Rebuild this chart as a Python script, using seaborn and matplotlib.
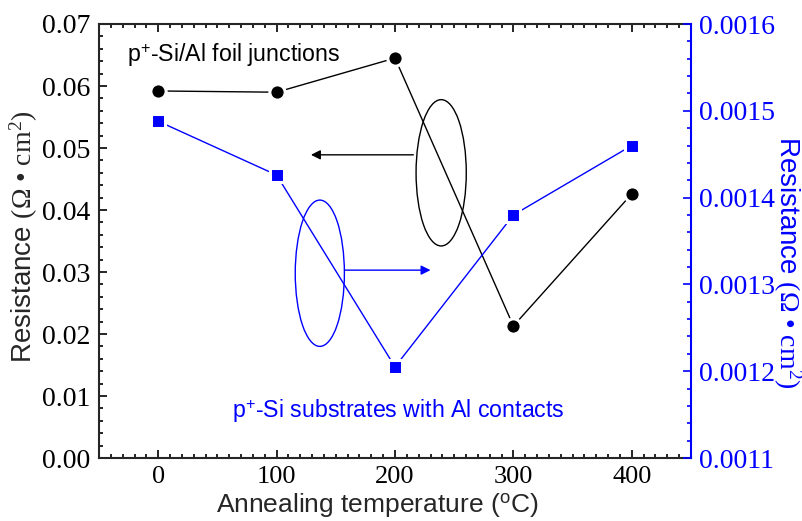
import matplotlib
matplotlib.use('Agg')
import matplotlib.pyplot as plt
import seaborn as sns
import pandas as pd
from matplotlib.patches import Ellipse
from matplotlib.ticker import MultipleLocator, FormatStrFormatter, FixedLocator

# ---- data ----
temperatures = [0, 100, 200, 300, 400]
foil_resistance = [0.0592, 0.0590, 0.0645, 0.0213, 0.0426]
substrate_resistance = [0.001488, 0.001426, 0.001205, 0.001380, 0.001460]
x_ticks = [0, 100, 200, 300, 400]
left_ticks = [0.00, 0.01, 0.02, 0.03, 0.04, 0.05, 0.06, 0.07]
right_ticks = [0.0011, 0.0012, 0.0013, 0.0014, 0.0015, 0.0016]
foil_label = r"p$^{\mathsf{+}}$-Si/Al foil junctions"
substrate_label = r"p$^{\mathsf{+}}$-Si substrates with Al contacts"
x_label = r"Annealing temperature ($^{\mathsf{o}}$C)"
y_label = r"Resistance $\mathrm{(\Omega\ •\ cm^{2})}$"

df = pd.DataFrame({"T": temperatures, "foil": foil_resistance, "sub": substrate_resistance})

sns.set_style('ticks')
plt.rcParams['font.family'] = ['Liberation Serif', 'DejaVu Serif']
plt.rcParams['mathtext.fontset'] = 'custom'
plt.rcParams['mathtext.rm'] = 'Liberation Serif'
plt.rcParams['mathtext.it'] = 'Liberation Serif:italic'
plt.rcParams['mathtext.sf'] = 'Liberation Sans'

BLUE = '#0000ff'
fig = plt.figure(figsize=(8.03, 5.21), dpi=100)
ax = fig.add_axes([99/803, 63/521, 592/803, 434/521])
ax2 = ax.twinx()

sns.lineplot(data=df, x="T", y="foil", ax=ax, color='black', lw=1.0,
             marker='o', markersize=11, markeredgecolor='white',
             markeredgewidth=2.2, zorder=3)
sns.lineplot(data=df, x="T", y="sub", ax=ax2, color=BLUE, lw=1.0,
             marker='s', markersize=10.5, markeredgecolor='white',
             markeredgewidth=2.2, zorder=3)

ax.set_xlim(-50, 450)
ax.set_ylim(0, 0.07)
ax2.set_ylim(0.0011, 0.0016)

ax.xaxis.set_major_locator(FixedLocator(x_ticks))
ax.xaxis.set_minor_locator(MultipleLocator(10))
ax.yaxis.set_major_locator(FixedLocator(left_ticks))
ax.yaxis.set_minor_locator(MultipleLocator(0.002))
ax.yaxis.set_major_formatter(FormatStrFormatter('%.2f'))
ax2.yaxis.set_major_locator(FixedLocator(right_ticks))
ax2.yaxis.set_minor_locator(MultipleLocator(0.00002))
ax2.yaxis.set_major_formatter(FormatStrFormatter('%.4f'))

for a in (ax, ax2):
    for s in a.spines.values():
        s.set_linewidth(1.5)
ax.spines['right'].set_visible(False)
ax2.spines['left'].set_visible(False)
ax2.spines['top'].set_visible(False)
ax2.spines['bottom'].set_visible(False)
ax2.spines['right'].set_color(BLUE)

ax.tick_params(axis='both', which='both', direction='in', top=True, right=False,
               labelsize=20, width=1.2, colors='black')
ax.tick_params(axis='x', pad=6, labelsize=19)
ax.tick_params(axis='y', pad=6)
ax.tick_params(which='major', length=6)
ax.tick_params(which='minor', length=3.2)
ax2.tick_params(axis='y', which='both', direction='in', left=False, right=True,
                labelsize=20, width=1.2, colors=BLUE, pad=6)
ax2.tick_params(axis='y', which='major', length=6)
ax2.tick_params(axis='y', which='minor', length=3.2)

ax.set_xlabel(x_label, family='Liberation Sans', fontsize=19)
ax.xaxis.set_label_coords(0.47, -0.075)
ax.set_ylabel(y_label, family='Liberation Sans', fontsize=20)
ax.yaxis.set_label_coords(-0.10, 0.51)
ax2.set_ylabel(y_label, family='Liberation Sans', fontsize=20, color=BLUE, rotation=270)
ax2.yaxis.set_label_coords(1.19, 0.45)

# annotations
ax.text(-26, 0.0650, foil_label, family='Liberation Sans', fontsize=16.7,
        ha='left', va='center', color='black')
ax.text(62, 0.0077, substrate_label, family='Liberation Sans', fontsize=16.7,
        ha='left', va='center', color=BLUE)

ax.add_patch(Ellipse((239, 0.0460), 42.4, 0.0236, fill=False, ec='black', lw=1.0, zorder=2))
ax.add_patch(Ellipse((136.5, 0.0298), 41.5, 0.0236, fill=False, ec=BLUE, lw=1.0, zorder=2))
ax.annotate('', xy=(129, 0.0489), xytext=(215.5, 0.0489),
            arrowprops=dict(arrowstyle='-|>', color='black', lw=1.0, mutation_scale=14,
                            shrinkA=0, shrinkB=0))
ax.annotate('', xy=(230, 0.0303), xytext=(157.5, 0.0303),
            arrowprops=dict(arrowstyle='-|>', color=BLUE, lw=1.0, mutation_scale=14,
                            shrinkA=0, shrinkB=0))

fig.savefig('out.png', dpi=100)
